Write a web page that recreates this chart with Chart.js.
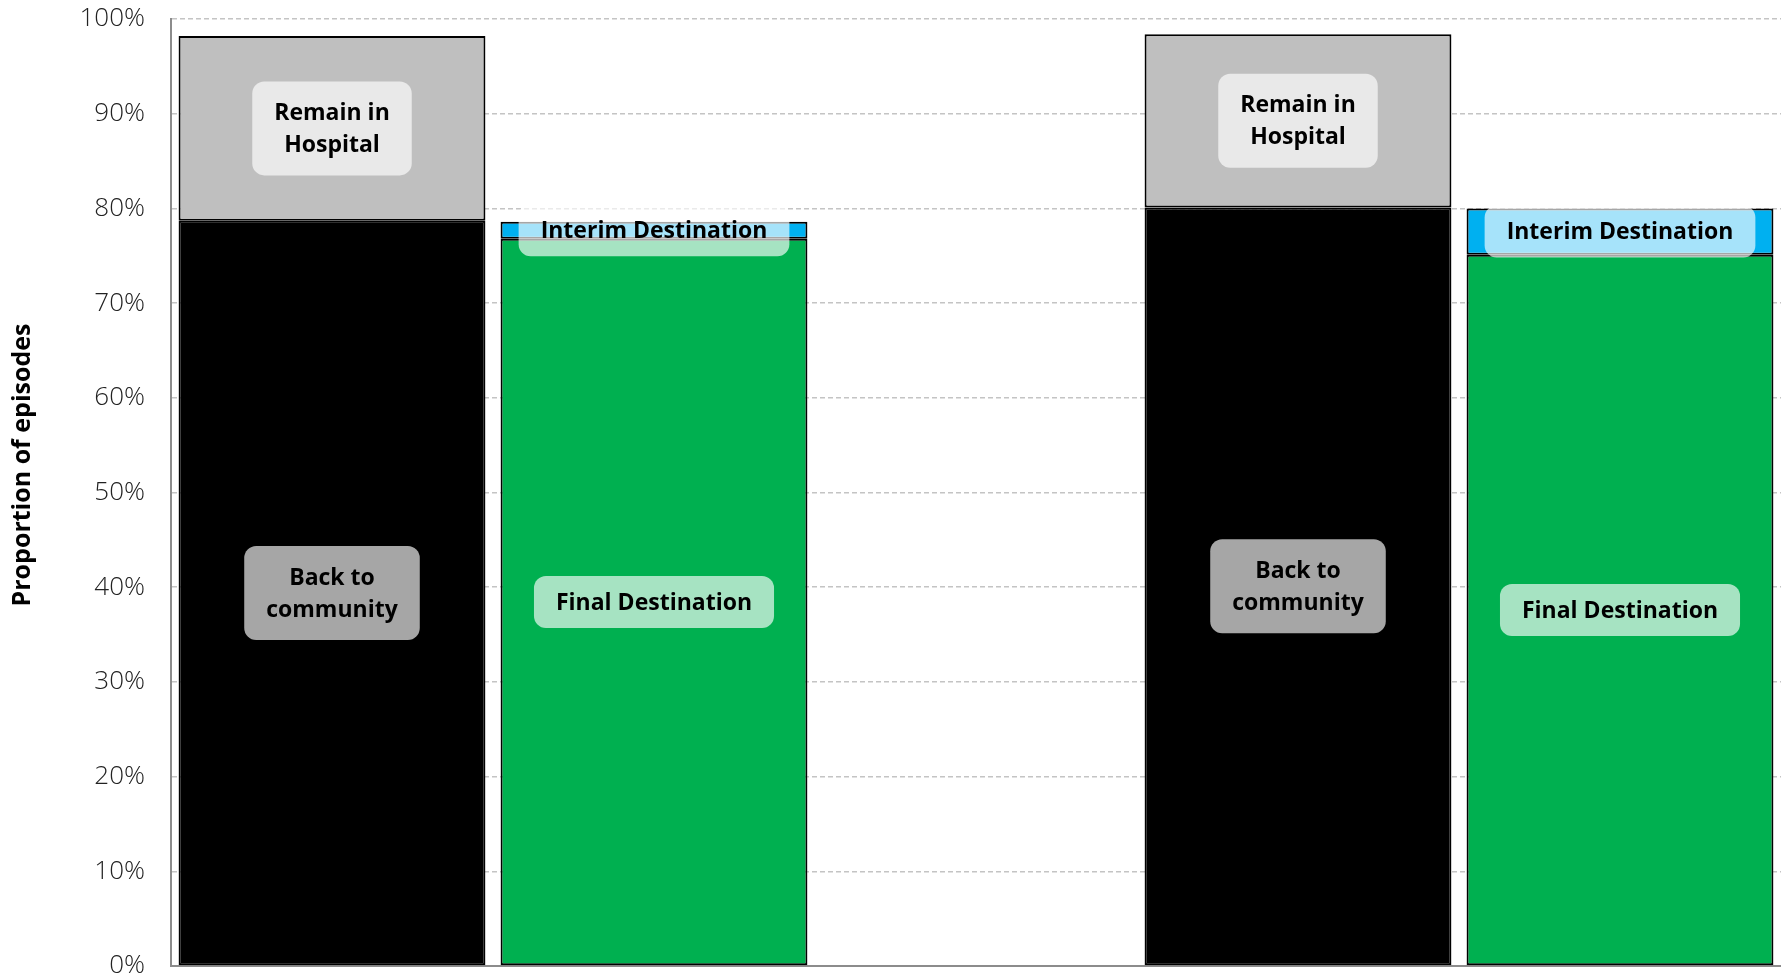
<!DOCTYPE html>
<html>
<head>
<meta charset="utf-8">
<script src="https://cdn.jsdelivr.net/npm/chart.js@4"></script>
<style>
  html, body { margin: 0; padding: 0; background: #fff; }
  #wrap { width: 1781px; height: 980px; }
</style>
</head>
<body>
<div id="wrap"><canvas id="chart" width="1781" height="980"></canvas></div>
<script>
// five slots on the x axis, the middle one is an empty spacer
const categories = ["", "", "", "", ""];

const backToCommunity = [78.7, null, null, 80.1, null];
const remainInHospital = [19.5, null, null, 18.3, null];
const finalDestination = [null, 76.8, null, null, 75.1];
const interimDestination = [null, 1.8, null, null, 4.9];

const yTicks = [0, 10, 20, 30, 40, 50, 60, 70, 80, 90, 100];

const seriesLabels = ["Back to community", "Remain in Hospital", "Final Destination", "Interim Destination"];
const seriesLines = [["Back to", "community"], ["Remain in", "Hospital"], ["Final Destination"], ["Interim Destination"]];
const seriesColors = ["#000000", "#BFBFBF", "#00B050", "#00B0F0"];

const labelFont = "bold 23px 'Open Sans', Lato, sans-serif";

// rounded, semi-transparent boxes in the middle of each segment
const segmentLabels = {
  id: "segmentLabels",
  afterDatasetsDraw(chart) {
    const ctx = chart.ctx;
    ctx.save();
    ctx.font = labelFont;
    ctx.textAlign = "center";
    ctx.textBaseline = "middle";
    chart.data.datasets.forEach((ds, i) => {
      const meta = chart.getDatasetMeta(i);
      meta.data.forEach((bar, j) => {
        if (ds.data[j] == null) return;
        const lines = seriesLines[i];
        const lineH = 32;
        const w = Math.max(...lines.map((l) => ctx.measureText(l).width)) + 44;
        const h = lines.length * lineH + (lines.length > 1 ? 30 : 20);
        const cx = bar.x;
        const cy = (bar.y + bar.base) / 2;
        ctx.fillStyle = "rgba(255,255,255,0.65)";
        ctx.beginPath();
        ctx.roundRect(cx - w / 2, cy - h / 2, w, h, 12);
        ctx.fill();
        ctx.fillStyle = "#000";
        lines.forEach((l, k) => {
          ctx.fillText(l, cx, cy + (k - (lines.length - 1) / 2) * lineH + 1);
        });
      });
    });
    ctx.restore();
  },
  afterDraw(chart) {
    const ctx = chart.ctx;
    ctx.save();
    ctx.translate(23, 465);
    ctx.rotate(-Math.PI / 2);
    ctx.font = "bold 25px 'Open Sans', Lato, sans-serif";
    ctx.fillStyle = "#000";
    ctx.textAlign = "center";
    ctx.textBaseline = "middle";
    ctx.fillText("Proportion of episodes", 0, 0);
    ctx.restore();
  },
};

const seriesData = [backToCommunity, remainInHospital, finalDestination, interimDestination];

new Chart(document.getElementById("chart"), {
  type: "bar",
  data: {
    labels: categories,
    datasets: seriesData.map((d, i) => ({
      label: seriesLabels[i],
      data: d,
      backgroundColor: seriesColors[i],
      borderColor: "#000",
      borderWidth: 2,
      borderSkipped: false,
      categoryPercentage: 1,
      barPercentage: 0.953,
    })),
  },
  options: {
    responsive: false,
    animation: false,
    layout: { padding: { top: 19, right: 0, left: 0, bottom: 0 } },
    plugins: {
      legend: { display: false },
      tooltip: { enabled: false },
    },
    scales: {
      x: {
        stacked: true,
        ticks: { display: false },
        grid: { display: false, drawTicks: false },
        border: { display: true, color: "#8C8C8C", width: 2 },
        afterFit(scale) {
          scale.height = 14;
          scale.paddingLeft = scale.paddingRight = 0;
        },
      },
      y: {
        stacked: true,
        min: 0,
        max: 100,
        afterBuildTicks(scale) { scale.ticks = yTicks.map((v) => ({ value: v })); },
        ticks: {
          padding: 26,
          color: "#222",
          font: { family: "'Open Sans', Lato, sans-serif", size: 26, weight: "300" },
          callback: (v) => v + "%",
        },
        grid: {
          color: "#C4C4C4",
          lineWidth: 1.5,
          drawTicks: false,
        },
        border: { display: true, color: "#8C8C8C", width: 2, dash: [5, 3] },
        afterFit(scale) {
          scale.width = 171;
          scale.paddingTop = scale.paddingBottom = 0;
        },
      },
    },
  },
  plugins: [segmentLabels],
});
</script>
</body>
</html>
